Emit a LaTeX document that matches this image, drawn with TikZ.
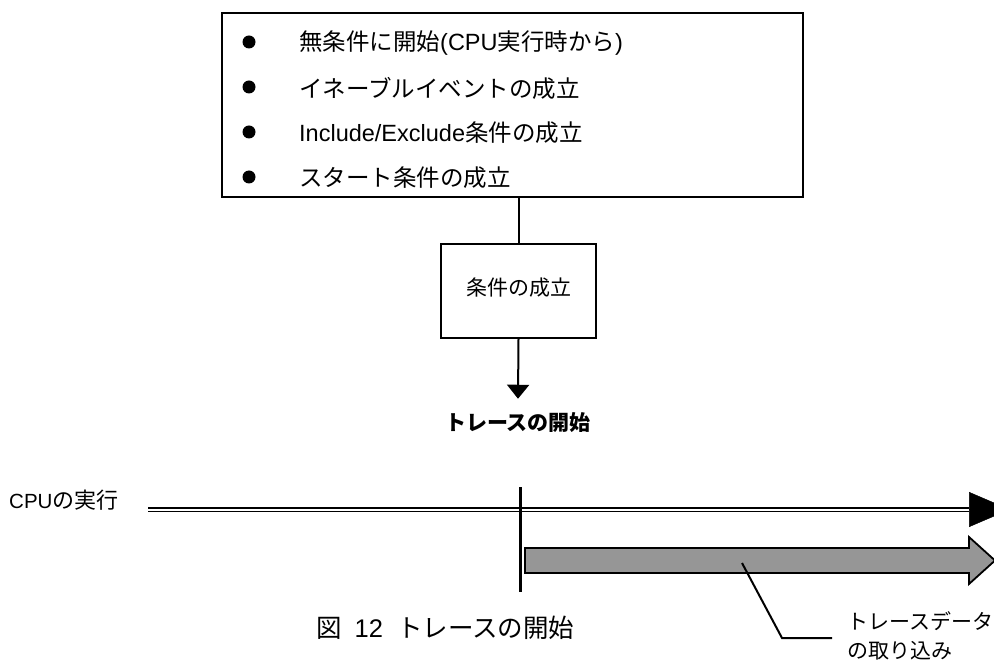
\documentclass[tikz,border=0pt]{standalone}
\usepackage{fontspec}
\setmainfont{Liberation Sans}
\newfontfamily\jp{Noto Sans CJK JP}
\usetikzlibrary{arrows.meta}
\definecolor{barfill}{RGB}{150,150,150}
\tikzset{
  box/.style={draw,line width=2pt,inner sep=0pt},
  lead/.style={line width=2pt},
  item/.style={anchor=west,inner sep=0pt,font=\fontsize{23.5}{28}\selectfont}
}
\begin{document}
\begin{tikzpicture}[x=1pt,y=-1pt]
  \useasboundingbox (0,0) rectangle (994,660);

  \node[box,minimum width=581pt,minimum height=184pt] (list) at (512.5,105) {};

  \begin{scope}[every node/.style={circle,fill,inner sep=0pt,minimum size=13pt}]
    \node (b1) at (249,42)  {};
    \node (b2) at (249,87)  {};
    \node (b3) at (249,132) {};
    \node (b4) at (249,177) {};
  \end{scope}

  \node[item] (t1) at (299,43)  {{\jp 無条件に開始}(CPU{\jp 実行時から})};
  \node[item] (t2) at (299,88)  {\jp イネーブルイベントの成立};
  \node[item] (t3) at (299,133) {Include/Exclude{\jp 条件の成立}};
  \node[item] (t4) at (299,178) {\jp スタート条件の成立};

  \node[box,minimum width=155pt,minimum height=94pt,font=\fontsize{21}{25}\selectfont\jp,
        text depth=8pt] (cond) at (518.5,291) {条件の成立};
  \node[inner sep=0pt,font=\fontsize{21}{25}\selectfont\bfseries\jp] (begin) at (518,423) {トレースの開始};

  \path (cond.north) edge[lead] (cond.north |- list.south);
  \path (cond.south) edge[lead,-{Triangle[width=22pt,length=14pt]}] ([yshift=14pt]begin.north);

  \node[anchor=west,inner sep=0pt,font=\fontsize{22}{26}\selectfont] (cpu) at (9,500) {{\fontsize{20.5}{24}\selectfont CPU}{\jp の実行}};
  \coordinate (cpufrom) at (148,509.5);
  \coordinate (cpuhead) at (969,509.5);
  \coordinate (cpuend)  at (1010,509.5);
  \draw[double,line width=1.5pt,double distance=2pt] (cpufrom) -- (cpuhead);
  \draw[line width=0.5pt,-{Triangle[width=35pt,length=41pt]}] (cpuhead) -- (cpuend);

  \draw[line width=3pt] (520,487) -- (520,592);

  \draw[line width=1.8pt,fill=barfill] (525,548) -- (969,548) -- (969,537) -- (995,560.5)
    -- (969,584) -- (969,573) -- (525,573) -- cycle;

  \node[anchor=west,inner sep=0pt,align=left,font=\fontsize{21}{29}\selectfont\jp] (tracelbl) at (847,635.5) {トレースデータ\\の取り込み};
  \coordinate (pick) at (742,563);
  \coordinate (bend) at (782,638);
  \draw[lead] (pick) -- (bend) -- ([xshift=-15pt]tracelbl.west |- bend);

  \node[anchor=west,inner sep=0pt,font=\fontsize{25.5}{29}\selectfont] (caption) at (316,628) {{\jp 図}\hspace{13pt}12\hspace{14pt}{\jp トレースの開始}};
\end{tikzpicture}
\end{document}
